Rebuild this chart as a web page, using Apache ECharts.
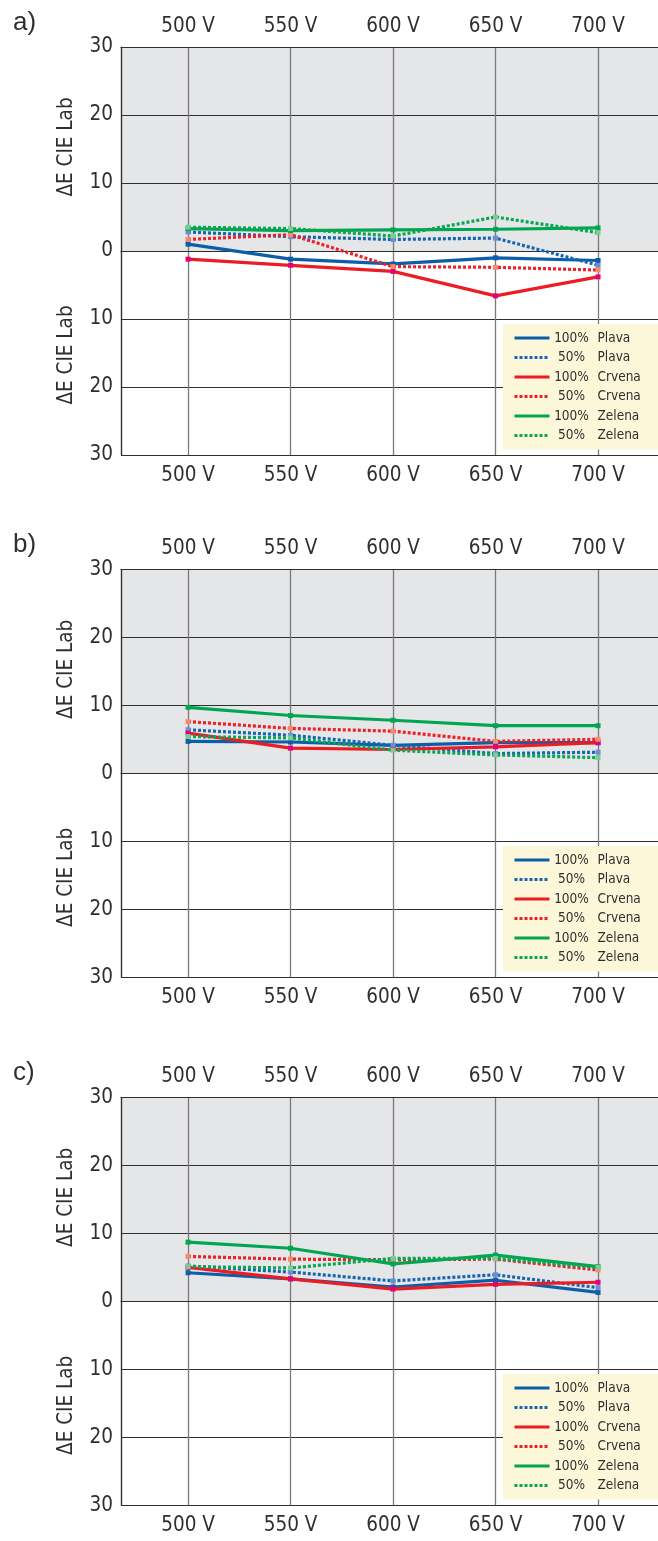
<!DOCTYPE html>
<html>
<head>
<meta charset="utf-8">
<script src="https://cdn.jsdelivr.net/npm/echarts@6/dist/echarts.min.js"></script>
<style>
html,body{margin:0;padding:0;background:#fff;}
#c{width:658px;height:1541px;}
</style>
</head>
<body>
<div id="c"></div>
<script>
const categories = [500, 550, 600, 650, 700];
const seriesNames = ['100%|Plava', '50%|Plava', '100%|Crvena', '50%|Crvena', '100%|Zelena', '50%|Zelena'];
const panelLabels = ['a)', 'b)', 'c)'];

const aPlava100 = [1.0, -1.2, -1.9, -1.0, -1.4];
const aPlava50 = [2.8, 2.1, 1.7, 1.9, -2.1];
const aCrvena100 = [-1.2, -2.1, -3.0, -6.6, -3.8];
const aCrvena50 = [1.7, 2.4, -2.3, -2.4, -2.8];
const aZelena100 = [3.3, 3.0, 3.1, 3.2, 3.4];
const aZelena50 = [3.5, 3.3, 2.2, 5.0, 2.7];

const bPlava100 = [4.7, 4.6, 4.1, 4.5, 4.5];
const bPlava50 = [6.4, 5.6, 4.1, 2.9, 3.1];
const bCrvena100 = [5.9, 3.7, 3.5, 3.9, 4.5];
const bCrvena50 = [7.6, 6.6, 6.2, 4.7, 5.0];
const bZelena100 = [9.7, 8.5, 7.8, 7.0, 7.0];
const bZelena50 = [5.4, 5.2, 3.4, 2.7, 2.3];

const cPlava100 = [4.2, 3.3, 2.1, 3.1, 1.3];
const cPlava50 = [5.2, 4.3, 3.0, 3.9, 2.0];
const cCrvena100 = [5.0, 3.3, 1.8, 2.5, 2.8];
const cCrvena50 = [6.6, 6.2, 6.1, 6.2, 4.6];
const cZelena100 = [8.7, 7.8, 5.5, 6.8, 5.1];
const cZelena50 = [5.1, 4.9, 6.3, 6.3, 5.0];

const panels = [
  [aPlava100, aPlava50, aCrvena100, aCrvena50, aZelena100, aZelena50],
  [bPlava100, bPlava50, bCrvena100, bCrvena50, bZelena100, bZelena50],
  [cPlava100, cPlava50, cCrvena100, cCrvena50, cZelena100, cZelena50]
];

// styling
const FONT = "'Liberation Sans Narrow', 'DejaVu Sans Condensed', 'Liberation Sans', sans-serif";
const TXT = '#2f2f2f';
const AXFS = 20.5;
const LEGFS = 13.5;
const styles = [
  {color: '#0b5ea8', mark: '#0b5ea8', dash: 'solid'},
  {color: '#1466b3', mark: '#6d8fd2', dash: [3, 2]},
  {color: '#ed1c24', mark: '#e4007c', dash: 'solid'},
  {color: '#ee2028', mark: '#f58a6c', dash: [3, 2]},
  {color: '#00a651', mark: '#00a651', dash: 'solid'},
  {color: '#08a852', mark: '#7ccb95', dash: [3, 2]}
];
const gridTops = [47, 569.3, 1097.3];
const gridH = 408;
const legendTops = [324, 846, 1374];
const xMin = 467.3, xMax = 739;

const grid = [], xAxis = [], yAxis = [], series = [], legend = [], graphic = [];

panels.forEach((panel, p) => {
  grid.push({left: 121, width: 557, top: gridTops[p], height: gridH,
    containLabel: false, outerBoundsMode: 'none'});
  const xBase = {
    type: 'value', gridIndex: p, min: xMin, max: xMax, z: 1.5,
    minInterval: 50, maxInterval: 50,
    axisTick: {show: false},
    axisLine: {show: true, lineStyle: {color: '#2f2f2f', width: 1.2}},
    axisLabel: {
      show: true, margin: 10, color: TXT, fontFamily: FONT, fontSize: AXFS,
      showMinLabel: false, showMaxLabel: false,
      formatter: v => (categories.indexOf(Math.round(v)) >= 0 && Math.abs(v - Math.round(v)) < 1e-6) ? v + ' V' : ''
    }
  };
  xAxis.push(Object.assign({}, xBase, {position: 'bottom',
    splitLine: {show: true, lineStyle: {color: '#7a7a7a', width: 1.3}}}));
  xAxis.push(Object.assign({}, xBase, {position: 'top', splitLine: {show: false}}));
  yAxis.push({
    type: 'value', gridIndex: p, min: -30, max: 30, interval: 10, z: 1.5,
    axisTick: {show: false},
    axisLine: {show: true, lineStyle: {color: '#2f2f2f', width: 1.2}},
    splitLine: {show: true, lineStyle: {color: '#2f2f2f', width: 1.2}},
    axisLabel: {margin: 8, color: TXT, fontFamily: FONT, fontSize: AXFS,
      formatter: v => String(Math.abs(v))}
  });
  // gray background for upper half
  series.push({
    type: 'line', xAxisIndex: p * 2, yAxisIndex: p, data: [], z: -1, silent: true,
    markArea: {silent: true, z: -1, itemStyle: {color: '#e5e6e8'},
      data: [[{yAxis: 0}, {yAxis: 30}]]}
  });
  panel.forEach((vals, i) => {
    const st = styles[i];
    series.push({
      name: seriesNames[i], type: 'line', xAxisIndex: p * 2, yAxisIndex: p,
      data: categories.map((c, k) => [c, vals[k]]),
      symbol: 'rect', symbolSize: 5, showSymbol: true,
      lineStyle: {color: st.color, width: 3.2, type: st.dash, cap: 'butt'},
      itemStyle: {color: st.mark},
      z: 3 + i, animation: false
    });
  });
  legend.push({
    left: 503, top: legendTops[p], orient: 'vertical',
    backgroundColor: '#fdf7d9', padding: [6, 24, 6, 10],
    itemWidth: 35, itemHeight: 8, itemGap: 3.5,
    itemStyle: {opacity: 0},
    lineStyle: {width: 3},
    selectedMode: false,
    data: seriesNames,
    formatter: n => { const s = n.split('|'); return '{p|' + s[0] + '}{n|' + s[1] + '}'; },
    textStyle: {
      color: TXT, fontFamily: FONT, fontSize: LEGFS, lineHeight: 16,
      rich: {
        p: {width: 34, align: 'right', color: TXT, fontFamily: FONT, fontSize: LEGFS, lineHeight: 16},
        n: {padding: [0, 0, 0, 9], color: TXT, fontFamily: FONT, fontSize: LEGFS, lineHeight: 16}
      }
    }
  });
  const off = gridTops[p] - gridTops[0];
  graphic.push({type: 'text', left: 13, top: 10 + off,
    style: {text: panelLabels[p], fill: TXT, font: "26px 'Liberation Sans', sans-serif"}});
  graphic.push({type: 'text', x: 67, y: 147 + off, rotation: Math.PI / 2,
    style: {text: 'ΔE CIE Lab', fill: TXT, font: AXFS + "px " + FONT, align: 'center', verticalAlign: 'middle'}});
  graphic.push({type: 'text', x: 67, y: 355 + off, rotation: Math.PI / 2,
    style: {text: 'ΔE CIE Lab', fill: TXT, font: AXFS + "px " + FONT, align: 'center', verticalAlign: 'middle'}});
});

const chart = echarts.init(document.getElementById('c'), null, {renderer: 'canvas'});
chart.setOption({animation: false, grid, xAxis, yAxis, series, legend, graphic});
</script>
</body>
</html>
